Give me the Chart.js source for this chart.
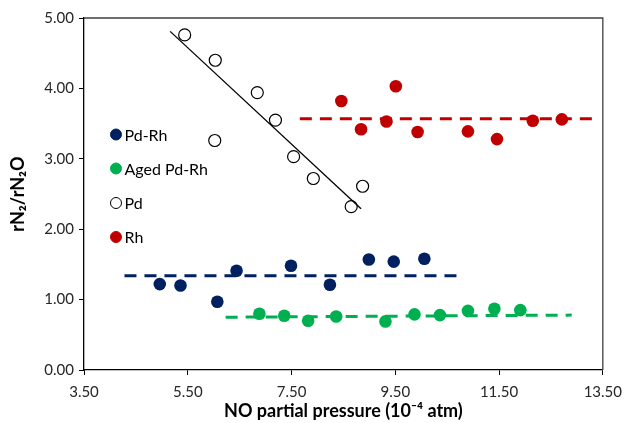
<!DOCTYPE html>
<html>
<head>
<meta charset="utf-8">
<script src="https://cdn.jsdelivr.net/npm/chart.js@4/dist/chart.umd.min.js"></script>
<style>
  html, body { margin: 0; padding: 0; background: #fff; }
  #wrap { position: relative; width: 630px; height: 423px; }
</style>
</head>
<body>
<div id="wrap"><canvas id="chart" width="630" height="423"></canvas></div>
<script>
// Values
const pdRhX = [4.96, 5.36, 6.07, 6.44, 7.49, 8.24, 8.99, 9.47, 10.06];
const pdRhY = [1.22, 1.20, 0.97, 1.41, 1.48, 1.21, 1.57, 1.54, 1.58];

const agedX = [6.88, 7.36, 7.82, 8.36, 9.31, 9.87, 10.36, 10.90, 11.41, 11.91];
const agedY = [0.80, 0.77, 0.70, 0.76, 0.69, 0.79, 0.78, 0.84, 0.87, 0.85];

const pdX = [5.44, 6.03, 6.84, 7.19, 6.02, 7.54, 7.92, 8.87, 8.65];
const pdY = [4.76, 4.40, 3.94, 3.55, 3.26, 3.03, 2.72, 2.61, 2.32];

const rhX = [8.46, 9.51, 8.84, 9.33, 9.93, 10.90, 11.46, 12.15, 12.71];
const rhY = [3.82, 4.03, 3.42, 3.53, 3.38, 3.39, 3.28, 3.54, 3.56];

// fitted / average lines (end points)
const pdFitX = [5.16, 8.84];
const pdFitY = [4.81, 2.29];
const rhAvgX = [7.66, 13.41];
const rhAvgY = [3.57, 3.57];
const pdRhAvgX = [4.28, 10.79];
const pdRhAvgY = [1.34, 1.34];
const agedAvgX = [6.23, 12.90];
const agedAvgY = [0.75, 0.78];

const xTicks = [3.5, 5.5, 7.5, 9.5, 11.5, 13.5];
const yTicks = [0, 1, 2, 3, 4, 5];

const legendNames = ['Pd-Rh', 'Aged Pd-Rh', 'Pd', 'Rh'];

const NAVY = '#002060';
const GREEN = '#00B050';
const RED = '#C00000';
const FONT = 'Lato, "Open Sans", sans-serif';

const pts = (xs, ys) => xs.map((x, i) => ({ x: x, y: ys[i] }));

// plot frame + legend drawn inside the plot area
const framePlugin = {
    id: 'frame',
    afterDraw(chart) {
        const { ctx, chartArea: a } = chart;
        ctx.save();
        ctx.strokeStyle = '#404040';
        ctx.lineWidth = 1.3;
        ctx.beginPath();
        ctx.moveTo(a.left, a.top);
        ctx.lineTo(a.right, a.top);
        ctx.lineTo(a.right, a.bottom);
        ctx.stroke();

        const styles = [
            { fill: NAVY, stroke: NAVY },
            { fill: GREEN, stroke: GREEN },
            { fill: '#fff', stroke: '#000' },
            { fill: RED, stroke: RED }
        ];
        const ys = [134.5, 168.5, 203, 237];
        ctx.font = '16px ' + FONT;
        ctx.textBaseline = 'middle';
        legendNames.forEach((name, i) => {
            ctx.beginPath();
            ctx.arc(116, ys[i], 5.5, 0, Math.PI * 2);
            ctx.fillStyle = styles[i].fill;
            ctx.fill();
            ctx.lineWidth = 1;
            ctx.strokeStyle = styles[i].stroke;
            ctx.stroke();
            ctx.fillStyle = '#000';
            ctx.fillText(name, 124.5, ys[i] + 1);
        });
        ctx.restore();
    }
};

const ctx = document.getElementById('chart').getContext('2d');
new Chart(ctx, {
    type: 'scatter',
    data: {
        datasets: [
            {
                label: 'Pd fit', data: pts(pdFitX, pdFitY), showLine: true,
                borderColor: '#000', borderWidth: 1.3, pointRadius: 0
            },
            {
                label: 'Rh avg', data: pts(rhAvgX, rhAvgY), showLine: true,
                borderColor: RED, borderWidth: 3, borderDash: [12, 8], pointRadius: 0
            },
            {
                label: 'Pd-Rh avg', data: pts(pdRhAvgX, pdRhAvgY), showLine: true,
                borderColor: NAVY, borderWidth: 3, borderDash: [12, 8], pointRadius: 0
            },
            {
                label: 'Aged avg', data: pts(agedAvgX, agedAvgY), showLine: true,
                borderColor: GREEN, borderWidth: 3, borderDash: [12, 8], pointRadius: 0
            },
            {
                label: 'Pd-Rh', data: pts(pdRhX, pdRhY),
                pointRadius: 6.3, backgroundColor: NAVY, borderColor: NAVY, borderWidth: 0
            },
            {
                label: 'Aged Pd-Rh', data: pts(agedX, agedY),
                pointRadius: 6.3, backgroundColor: GREEN, borderColor: GREEN, borderWidth: 0
            },
            {
                label: 'Pd', data: pts(pdX, pdY),
                pointRadius: 6, backgroundColor: '#fff', borderColor: '#000', borderWidth: 1.2
            },
            {
                label: 'Rh', data: pts(rhX, rhY),
                pointRadius: 6.3, backgroundColor: RED, borderColor: RED, borderWidth: 0
            }
        ]
    },
    options: {
        responsive: false,
        animation: false,
        layout: { padding: { top: 18, right: 21, left: 0, bottom: 0 } },
        plugins: { legend: { display: false }, tooltip: { enabled: false } },
        scales: {
            x: {
                type: 'linear', min: 3.5, max: 13.5,
                afterBuildTicks: (s) => { s.ticks = xTicks.map(v => ({ value: v })); },
                afterFit: (s) => { s.height = 53; },
                grid: { drawOnChartArea: false, drawTicks: true, tickLength: 5, color: '#000' },
                border: { display: true, color: '#000', width: 1.3 },
                ticks: {
                    color: '#262626', padding: 8, maxRotation: 0,
                    font: { family: FONT, size: 15 },
                    callback: (v) => Number(v).toFixed(2)
                },
                title: {
                    display: true, text: 'NO partial pressure (10⁻⁴ atm)', color: '#000',
                    font: { family: FONT, size: 18, weight: 'bold' }, padding: { top: 0, bottom: 1 }
                }
            },
            y: {
                type: 'linear', min: 0, max: 5,
                afterBuildTicks: (s) => { s.ticks = yTicks.map(v => ({ value: v })); },
                afterFit: (s) => { s.width = 84; },
                grid: { drawOnChartArea: false, drawTicks: true, tickLength: 5, color: '#000' },
                border: { display: true, color: '#000', width: 1.3 },
                ticks: {
                    color: '#262626', padding: 5,
                    font: { family: FONT, size: 15 },
                    callback: (v) => Number(v).toFixed(2)
                },
                title: {
                    display: true, text: 'rN₂/rN₂O', color: '#000',
                    font: { family: FONT, size: 18, weight: 'bold' }, padding: { top: 7, bottom: 4 }
                }
            }
        }
    },
    plugins: [framePlugin]
});
</script>
</body>
</html>
